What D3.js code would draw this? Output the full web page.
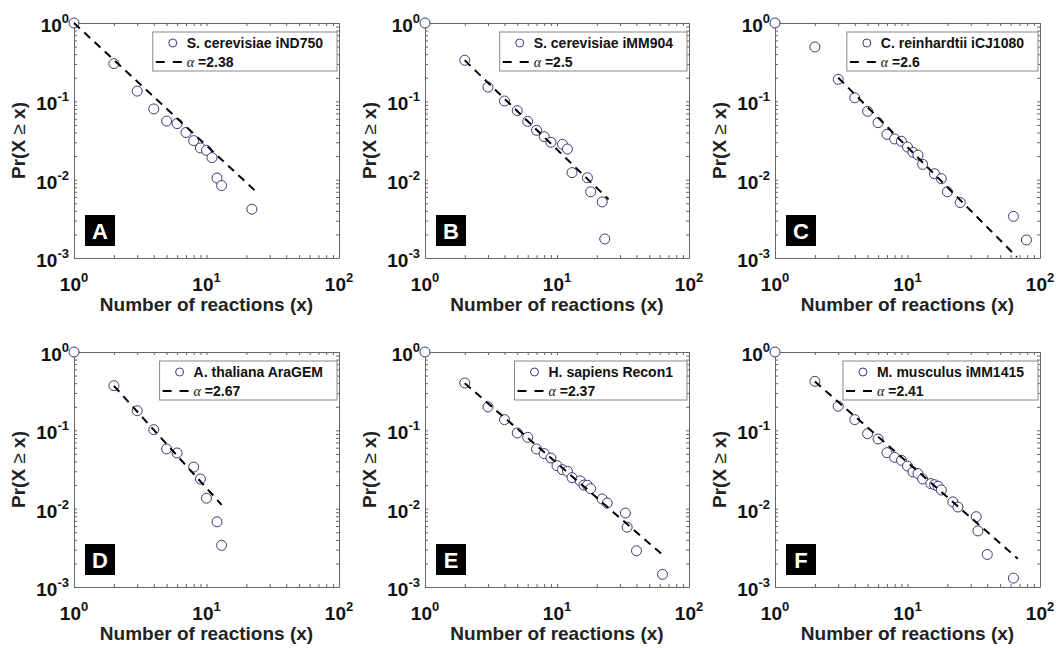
<!DOCTYPE html>
<html>
<head>
<meta charset="utf-8">
<script src="https://cdn.jsdelivr.net/npm/d3@7"></script>
<style>
  body { margin: 0; background: #fff; }
  svg { display: block; }
  text { font-family: "Liberation Sans", Arial, sans-serif; }
</style>
</head>
<body>
<svg id="chart" width="1056" height="648"></svg>
<script>
// values
const xA = [1, 2, 3, 4, 5, 6, 7, 8, 9, 10, 11, 12, 13, 22];
const yA = [1, 0.303, 0.135, 0.080, 0.056, 0.052, 0.040, 0.0315, 0.0254, 0.0237, 0.0191, 0.0105, 0.0084, 0.0042];

const xB = [1, 2, 3, 4, 5, 6, 7, 8, 9, 11, 12, 13, 17, 18, 22, 23];
const yB = [1, 0.334, 0.152, 0.101, 0.076, 0.0555, 0.0427, 0.0354, 0.030, 0.0283, 0.0246, 0.0123, 0.0106, 0.0070, 0.0052, 0.00175];

const xC = [1, 2, 3, 4, 5, 6, 7, 8, 9, 10, 11, 12, 13, 16, 18, 20, 25, 63, 79];
const yC = [1, 0.494, 0.191, 0.111, 0.0745, 0.0534, 0.0379, 0.0331, 0.0309, 0.0261, 0.0223, 0.0206, 0.0157, 0.0119, 0.0103, 0.0070, 0.0051, 0.0034, 0.0017];

const xD = [1, 2, 3, 4, 5, 6, 8, 9, 10, 12, 13];
const yD = [1, 0.372, 0.178, 0.102, 0.0578, 0.0514, 0.034, 0.0239, 0.0136, 0.0068, 0.0034];

const xE = [1, 2, 3, 4, 5, 6, 7, 8, 9, 10, 11, 12, 13, 15, 16, 17, 18, 22, 24, 33, 34, 40, 63];
const yE = [1, 0.402, 0.199, 0.137, 0.0925, 0.0814, 0.0578, 0.0504, 0.0443, 0.0354, 0.0315, 0.030, 0.0249, 0.0226, 0.020, 0.0199, 0.018, 0.0133, 0.0118, 0.0088, 0.0058, 0.0029, 0.00145];

const xF = [1, 2, 3, 4, 5, 6, 7, 8, 9, 10, 11, 12, 13, 15, 16, 17, 18, 22, 24, 33, 34, 40, 63];
const yF = [1, 0.422, 0.203, 0.137, 0.0906, 0.0775, 0.0519, 0.0452, 0.0414, 0.035, 0.0294, 0.028, 0.0239, 0.0209, 0.0202, 0.0193, 0.0173, 0.0122, 0.0105, 0.0079, 0.0052, 0.0026, 0.0013];

// fitted power-law lines (end points)
const fitX = [[1, 24], [2, 24.6], [3, 67], [2, 13], [2, 65], [2, 68]];
const fitY = [[1, 0.0069], [0.334, 0.0056], [0.2, 0.00103], [0.37, 0.0112], [0.40, 0.00246], [0.42, 0.0023]];

const names = ["S. cerevisiae iND750", "S. cerevisiae iMM904", "C. reinhardtii iCJ1080",
               "A. thaliana AraGEM", "H. sapiens Recon1", "M. musculus iMM1415"];
const alphas = ["2.38", "2.5", "2.6", "2.67", "2.37", "2.41"];
const letters = ["A", "B", "C", "D", "E", "F"];

const xTicks = [0, 1, 2];      // exponents
const yTicks = [0, -1, -2, -3];

const xs = [xA, xB, xC, xD, xE, xF];
const ys = [yA, yB, yC, yD, yE, yF];

// layout
const colLeft = [74, 425, 775], colRight = [339, 689, 1040];
const rowTop = [23, 352], rowBottom = [258, 587];

const svg = d3.select("#chart");
const frameColor = "#666";
const markerColor = "#3a3a78";

xs.forEach((xv, i) => {
  const col = i % 3, row = Math.floor(i / 3);
  const left = colLeft[col], right = colRight[col];
  const top = rowTop[row], bottom = rowBottom[row];

  const x = d3.scaleLog().domain([1, 100]).range([left, right]);
  const y = d3.scaleLog().domain([1e-3, 1]).range([bottom, top]);

  const g = svg.append("g");

  // box + inward ticks on all four sides
  const axes = [
    [d3.axisBottom(x), `translate(0,${bottom})`],
    [d3.axisTop(x), `translate(0,${top})`],
    [d3.axisLeft(y), `translate(${left},0)`],
    [d3.axisRight(y), `translate(${right},0)`]
  ];
  axes.forEach(([ax, tr]) => {
    const a = g.append("g").attr("transform", tr)
      .call(ax.tickSizeInner(-3).tickSizeOuter(0).tickFormat(""));
    a.selectAll("path").attr("stroke", frameColor);
    a.selectAll("line").attr("stroke", frameColor);
  });

  // tick labels 10^k
  xTicks.forEach(k => {
    const t = g.append("text")
      .attr("x", x(Math.pow(10, k)))
      .attr("y", bottom + 33)
      .attr("text-anchor", "middle")
      .attr("font-weight", "bold")
      .attr("font-size", 19)
      .attr("fill", "#111");
    t.append("tspan").text("10");
    t.append("tspan").attr("font-size", 13).attr("dy", -9).text(k);
  });
  yTicks.forEach(k => {
    const t = g.append("text")
      .attr("x", left - 5)
      .attr("y", y(Math.pow(10, k)) + 9)
      .attr("text-anchor", "end")
      .attr("font-weight", "bold")
      .attr("font-size", 19)
      .attr("fill", "#111");
    t.append("tspan").text("10");
    t.append("tspan").attr("font-size", 13).attr("dy", -9).text(k);
  });

  // axis titles
  g.append("text")
    .attr("x", (left + right) / 2)
    .attr("y", bottom + 53)
    .attr("text-anchor", "middle")
    .attr("font-weight", "bold")
    .attr("font-size", 19)
    .attr("fill", "#222")
    .text("Number of reactions (x)");

  const yl = g.append("text")
    .attr("transform", `translate(${left - 49},${(top + bottom) / 2}) rotate(-90)`)
    .attr("text-anchor", "middle")
    .attr("font-weight", "bold")
    .attr("font-size", 19)
    .attr("fill", "#222");
  yl.append("tspan").text("Pr(X ");
  yl.append("tspan").attr("font-weight", "normal").text("\u2265");
  yl.append("tspan").text(" x)");

  // panel letter
  g.append("rect")
    .attr("x", left + 11).attr("y", bottom - 43)
    .attr("width", 30).attr("height", 31)
    .attr("fill", "#000");
  g.append("text")
    .attr("x", left + 26).attr("y", bottom - 19)
    .attr("text-anchor", "middle")
    .attr("font-weight", "bold")
    .attr("font-size", 22)
    .attr("fill", "#fff")
    .text(letters[i]);

  // data points
  const pts = xv.map((d, j) => [d, ys[i][j]]);
  g.append("g").selectAll("circle").data(pts).join("circle")
    .attr("cx", d => x(d[0]))
    .attr("cy", d => y(d[1]))
    .attr("r", 5)
    .attr("fill", "#fff")
    .attr("stroke", markerColor)
    .attr("stroke-width", 1);

  // fitted line
  const fit = fitX[i].map((d, j) => [d, fitY[i][j]]);
  g.append("path")
    .datum(fit)
    .attr("d", d3.line().x(d => x(d[0])).y(d => y(d[1])))
    .attr("fill", "none")
    .attr("stroke", "#000")
    .attr("stroke-width", 2)
    .attr("stroke-dasharray", "8,6");

  // legend
  const lg = g.append("g");
  const box = lg.append("rect").attr("fill", "#fff").attr("stroke", "#888").attr("stroke-width", 1);
  const t1 = lg.append("text")
    .attr("font-weight", "bold").attr("font-size", 14).attr("fill", "#111")
    .text(names[i]);
  const w = 34 + t1.node().getComputedTextLength() + 14;
  const lx = right - 2 - w, ly = top + 9;
  box.attr("x", lx).attr("y", ly).attr("width", w).attr("height", 39);
  t1.attr("x", lx + 34).attr("y", ly + 16);
  lg.append("circle")
    .attr("cx", lx + 20).attr("cy", ly + 11).attr("r", 4)
    .attr("fill", "#fff").attr("stroke", markerColor);
  lg.append("line")
    .attr("x1", lx + 3).attr("x2", lx + 29)
    .attr("y1", ly + 30).attr("y2", ly + 30)
    .attr("stroke", "#000").attr("stroke-width", 2)
    .attr("stroke-dasharray", "9,8");
  const t2 = lg.append("text")
    .attr("x", lx + 34).attr("y", ly + 35)
    .attr("font-size", 14).attr("fill", "#111");
  t2.append("tspan")
    .attr("font-family", "'Liberation Serif', 'Times New Roman', serif")
    .attr("font-style", "italic").text("\u03b1");
  t2.append("tspan").attr("font-weight", "bold").text(" =" + alphas[i]);
});
</script>
</body>
</html>
